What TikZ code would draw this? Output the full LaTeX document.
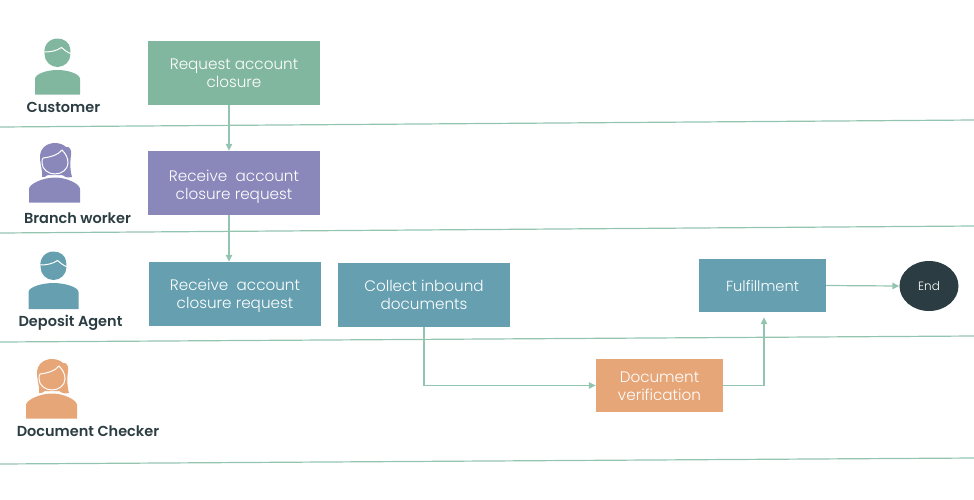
\documentclass[tikz,border=0pt]{standalone}
\usepackage{fontspec}
\setmainfont{Poppins}[UprightFont=* Light,BoldFont=* SemiBold]
\usetikzlibrary{arrows.meta,shapes.geometric}
\definecolor{cgreen}{HTML}{82B79F}
\definecolor{cpurple}{HTML}{8A88BB}
\definecolor{cblue}{HTML}{659FB0}
\definecolor{corange}{HTML}{E6A678}
\definecolor{cdark}{HTML}{2B3D42}
\definecolor{cline}{HTML}{93C4B0}
\newcommand{\toppad}{\rule{0pt}{17pt}}
% #4 = horizontal half width of the body, #5 = body top, #6 = body bottom
\newcommand{\manicon}[6]{%
 \begin{scope}[shift={(#1,#2)}]
  \fill[#3] (0,1) circle (13);
  \fill[#3] (-13,0) .. controls (-14,-8) and (-8,-14.5) .. (0,-14.5) .. controls (7,-14.5) and (12,-10) .. (12.5,-5) .. controls (13,-3) and (13,-1) .. (12.5,1) -- cycle;
  \draw[white,line width=1pt] (-14,-1) .. controls (-7,-1) and (-1,-2) .. (4,-5.5) .. controls (7,-3) and (9,-1) .. (14,1);
  \fill[#3] (-#4,#6) -- (-#4,#5+9) .. controls (-#4,#5+4) and (-11,#5) .. (0,#5) .. controls (11,#5) and (#4,#5+4) .. (#4,#5+9) -- (#4,#6) -- cycle;
 \end{scope}}
\newcommand{\womanicon}[3]{%
 \begin{scope}[shift={(#1,#2)}]
  \fill[#3] (-13,14) .. controls (-12,8) and (-15,2) .. (-15,-6) .. controls (-15,-15) and (-8,-20) .. (0,-20) .. controls (5,-20) and (9,-18) .. (11,-16) .. controls (15,-17) and (17,-12) .. (16,-8) .. controls (15,0) and (15,8) .. (17,14) .. controls (12,15) and (9,14) .. (7,12) -- (-7,12) .. controls (-9,14) and (-11,14) .. (-13,14) -- cycle;
  \draw[white,line width=1pt] (-12,-5) .. controls (-4,-6) and (3,-8) .. (7,-13) .. controls (11,-9) and (13,-5) .. (13,0) .. controls (13,6) and (7,11) .. (0,11) .. controls (-7,11) and (-13,6) .. (-13,0) .. controls (-13,-2) and (-13,-4) .. (-12,-5);
  \fill[#3] (-26,39.5) -- (-26,26) .. controls (-26,21) and (-12,14.5) .. (0,14.5) .. controls (12,14.5) and (25,21) .. (25,26) -- (25,39.5) -- cycle;
  \draw[white,line width=0.8pt] (-9,13.2) .. controls (-4,14) and (4,14) .. (9,13.2);
 \end{scope}}
\tikzset{
 x=1pt,y=-1pt,
 flowbox/.style={rectangle,minimum height=64pt,minimum width=172pt,inner sep=0pt,text=white,align=center,font=\fontsize{15.2}{18}\selectfont},
 smallbox/.style={flowbox,minimum height=53pt,minimum width=127pt},
 role/.style={text=cdark,font=\fontsize{14.5}{17}\selectfont\bfseries,inner sep=0pt},
 lane/.style={cline,line width=1.2pt},
 flow/.style={cline,line width=1.2pt,-{Triangle[length=7pt,width=6.5pt]}},
}
\begin{document}
\begin{tikzpicture}
\useasboundingbox (0,0) rectangle (974,499);
\coordinate (l1a) at (0,127); \coordinate (l1b) at (974,120);
\coordinate (l2a) at (0,233); \coordinate (l2b) at (974,226);
\coordinate (l3a) at (0,342); \coordinate (l3b) at (974,336);
\coordinate (l4a) at (0,464); \coordinate (l4b) at (974,458);
\draw[lane] (l1a) -- (l1b);
\draw[lane] (l2a) -- (l2b);
\draw[lane] (l3a) -- (l3b);
\draw[lane] (l4a) -- (l4b);

\manicon{57.5}{53}{cgreen}{22.5}{17}{41.5}
\womanicon{55}{163}{cpurple}
\manicon{53.5}{266}{cblue}{25}{17}{43}
\womanicon{52}{379}{corange}

\node[role] (rcust) at (63.5,107) {Customer};
\node[role] (rbranch) at (77.5,218) {Branch worker};
\node[role] (rdep) at (70.5,322.5) {Deposit Agent};
\node[role] (rdoc) at (88,431) {Document Checker};

\node[flowbox,fill=cgreen] (req) at (234,73) {\toppad\strut Request account\\\strut closure};
\node[flowbox,fill=cpurple] (rec1) at (234,183) {\rule{0pt}{20pt}\strut Receive\ \ account\\\strut closure request};
\node[flowbox,fill=cblue] (rec2) at (235,294) {\toppad\strut Receive\ \ account\\\strut closure request};
\node[flowbox,fill=cblue] (coll) at (424,295) {\toppad\strut Collect inbound\\\strut documents};
\node[smallbox,fill=cblue,font=\fontsize{14.6}{18}\selectfont] (ful) at (762.5,285.5) {\toppad\strut Fulfillment};
\node[smallbox,fill=corange] (ver) at (659.5,385.5) {\toppad\strut Document\\\strut verification};
\node[ellipse,fill=cdark,minimum width=59pt,minimum height=50pt,inner sep=0pt,text=white,font=\fontsize{12}{14}\selectfont] (end) at (929,286) {End};

\draw[flow] ([xshift=-5pt]req.south) -- ([xshift=-5pt]rec1.north);
\draw[flow] ([xshift=-5pt]rec1.south) -- ([xshift=-6pt]rec2.north);
\draw[flow] (coll.south) |- (ver.west);
\draw[flow,shorten >=5pt] (ver.east) -| ([xshift=1.5pt]ful.south);
\draw[flow] (ful.east) -- (end.west);
\end{tikzpicture}
\end{document}
